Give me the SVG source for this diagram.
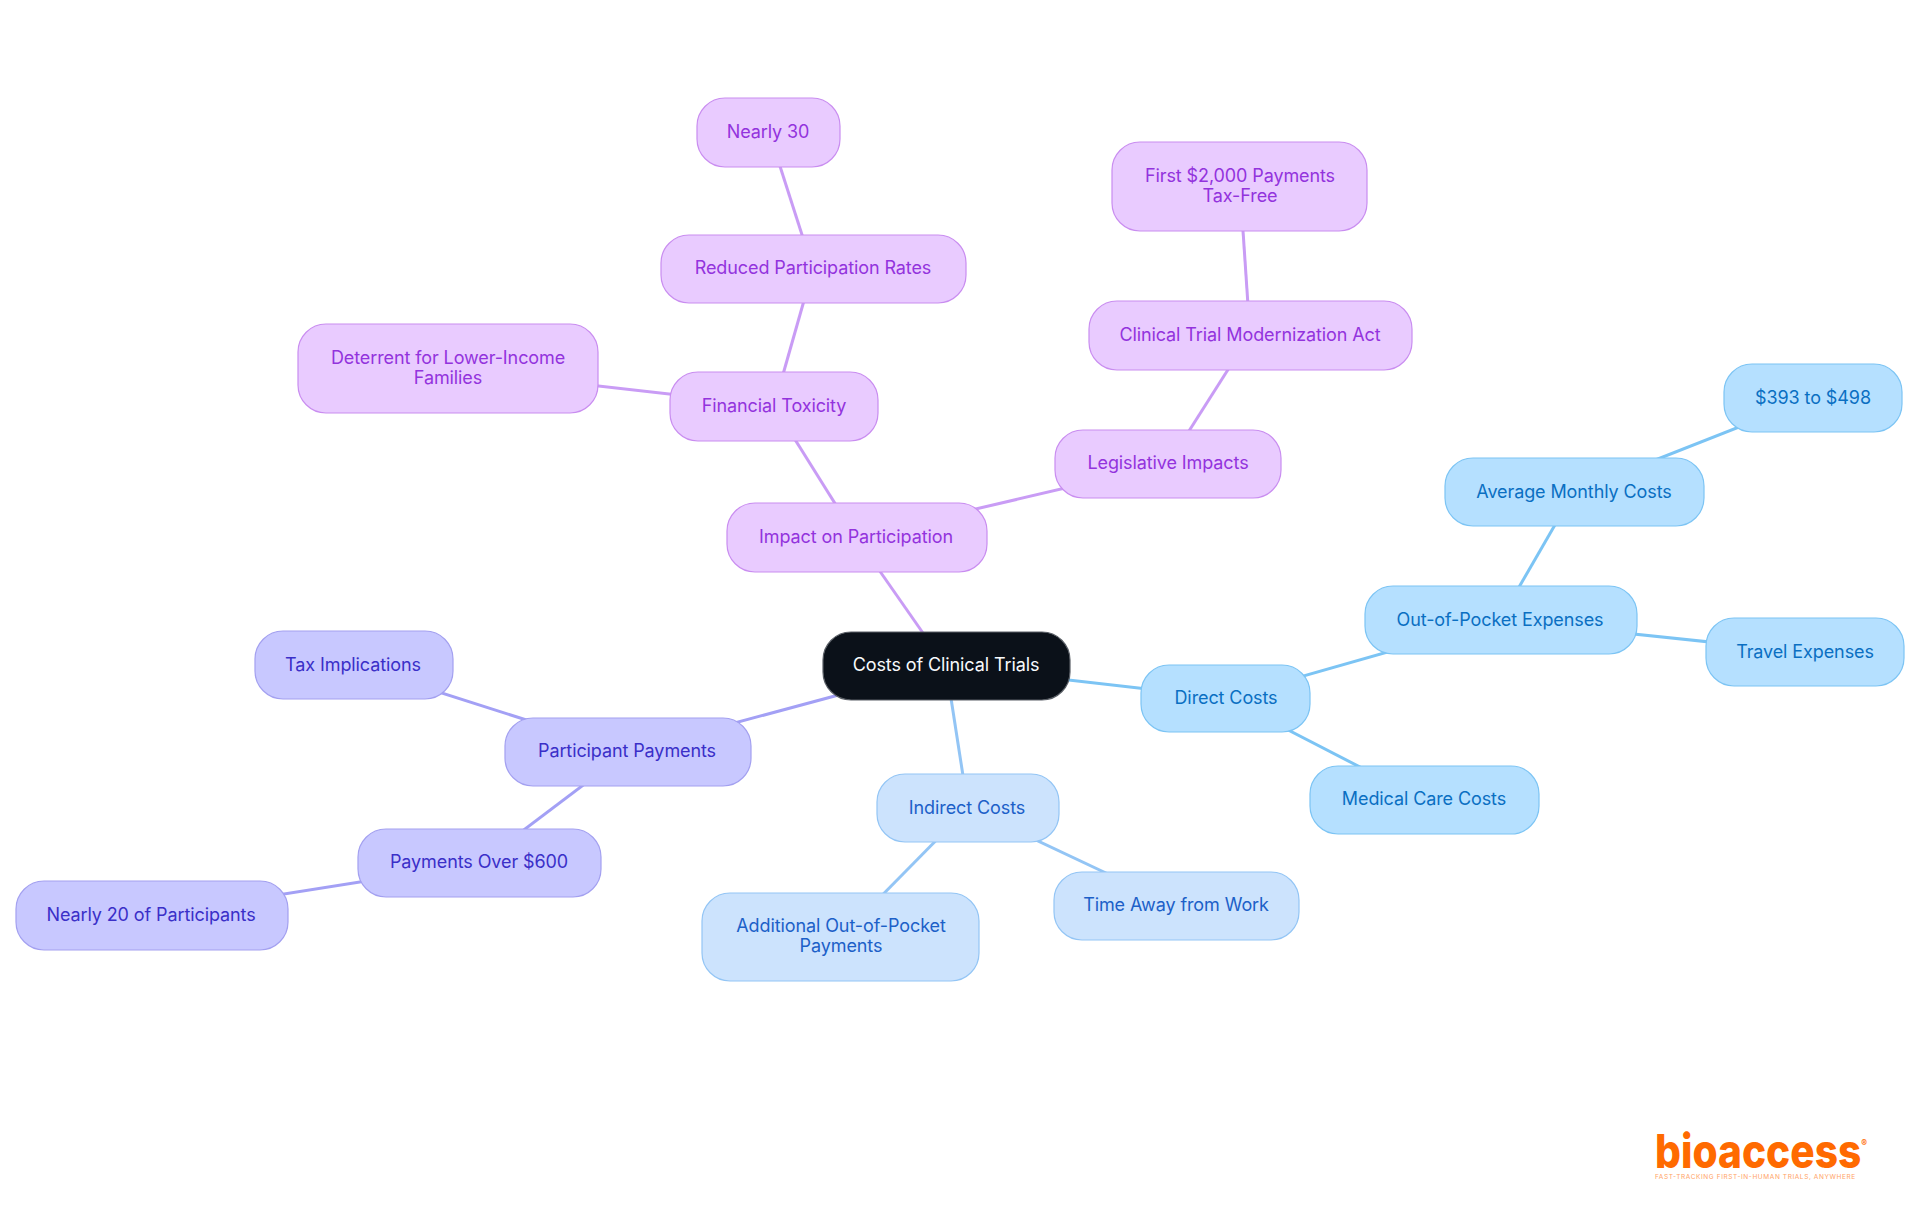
<svg xmlns="http://www.w3.org/2000/svg" width="1920" height="1215" viewBox="0 0 1920 1215">
<style>
text{font-family:Inter,"Noto Sans",sans-serif;font-size:18px;font-weight:400;letter-spacing:-.1px;text-anchor:middle;dominant-baseline:central}
rect{stroke-width:1.2}
line{stroke-width:3;fill:none}
.r rect{fill:#0b1119;stroke:#5a5f66}.r text{fill:#f8fafc}
.p rect{fill:#e9cbff;stroke:#c98df0}.p text{fill:#9333dd}
.s rect{fill:#b5e0ff;stroke:#7cc4f4}.s text{fill:#0a6fc2}
.b rect{fill:#cce3fd;stroke:#93c5f5}.b text{fill:#1c60c8}
.i rect{fill:#c8c8ff;stroke:#a3a0f0}.i text{fill:#3a2fc8}
.lp{stroke:#c99cf5}.ls{stroke:#7cc4f4}.lb{stroke:#93c5f5}.li{stroke:#a3a0f5}
</style>
<rect width="1920" height="1215" fill="#fff" style="stroke:none"/>
<g id="connectors">
<line class="lp" x1="946" y1="666" x2="856" y2="537"/>
<line class="lp" x1="856" y1="537" x2="1168" y2="464"/>
<line class="lp" x1="1168" y1="464" x2="1250" y2="335"/>
<line class="lp" x1="1250" y1="335" x2="1240" y2="186"/>
<line class="lp" x1="856" y1="537" x2="774" y2="406"/>
<line class="lp" x1="774" y1="406" x2="448" y2="369"/>
<line class="lp" x1="774" y1="406" x2="813" y2="269"/>
<line class="lp" x1="813" y1="269" x2="769" y2="132"/>
<line class="li" x1="946" y1="666" x2="627" y2="752"/>
<line class="li" x1="627" y1="752" x2="354" y2="665"/>
<line class="li" x1="627" y1="752" x2="480" y2="863"/>
<line class="li" x1="480" y1="863" x2="152" y2="915"/>
<line class="lb" x1="946" y1="666" x2="968" y2="808"/>
<line class="lb" x1="968" y1="808" x2="841" y2="937"/>
<line class="lb" x1="968" y1="808" x2="1176" y2="906"/>
<line class="ls" x1="946" y1="666" x2="1226" y2="698"/>
<line class="ls" x1="1226" y1="698" x2="1424" y2="800"/>
<line class="ls" x1="1226" y1="698" x2="1500" y2="620"/>
<line class="ls" x1="1500" y1="620" x2="1805" y2="652"/>
<line class="ls" x1="1500" y1="620" x2="1574" y2="492"/>
<line class="ls" x1="1574" y1="492" x2="1813" y2="398"/>
</g>
<g id="root" class="r"><rect x="823" y="632" width="247" height="68" rx="28"/><text x="946" y="664">Costs of Clinical Trials</text></g>
<g id="impact" class="p"><rect x="727" y="503" width="260" height="69" rx="28"/><text x="856" y="536">Impact on Participation</text></g>
<g id="legislative" class="p"><rect x="1055" y="430" width="226" height="68" rx="28"/><text x="1168" y="462">Legislative Impacts</text></g>
<g id="modernization" class="p"><rect x="1089" y="301" width="323" height="69" rx="28"/><text x="1250" y="334">Clinical Trial Modernization Act</text></g>
<g id="first2000" class="p"><rect x="1112" y="142" width="255" height="89" rx="28"/><text x="1240" y="175">First $2,000 Payments</text><text x="1240" y="195">Tax-Free</text></g>
<g id="toxicity" class="p"><rect x="670" y="372" width="208" height="69" rx="28"/><text x="774" y="405">Financial Toxicity</text></g>
<g id="deterrent" class="p"><rect x="298" y="324" width="300" height="89" rx="28"/><text x="448" y="357">Deterrent for Lower-Income</text><text x="448" y="377">Families</text></g>
<g id="reduced" class="p"><rect x="661" y="235" width="305" height="68" rx="28"/><text x="813" y="267">Reduced Participation Rates</text></g>
<g id="nearly30" class="p"><rect x="697" y="98" width="143" height="69" rx="28"/><text x="768" y="131">Nearly 30</text></g>
<g id="payments" class="i"><rect x="505" y="718" width="246" height="68" rx="28"/><text x="627" y="750">Participant Payments</text></g>
<g id="tax" class="i"><rect x="255" y="631" width="198" height="68" rx="28"/><text x="353" y="664">Tax Implications</text></g>
<g id="over600" class="i"><rect x="358" y="829" width="243" height="68" rx="28"/><text x="479" y="861">Payments Over $600</text></g>
<g id="nearly20" class="i"><rect x="16" y="881" width="272" height="69" rx="28"/><text x="151" y="914">Nearly 20 of Participants</text></g>
<g id="indirect" class="b"><rect x="877" y="774" width="182" height="68" rx="28"/><text x="967" y="807">Indirect Costs</text></g>
<g id="additional" class="b"><rect x="702" y="893" width="277" height="88" rx="28"/><text x="841" y="925">Additional Out-of-Pocket</text><text x="841" y="945">Payments</text></g>
<g id="timeaway" class="b"><rect x="1054" y="872" width="245" height="68" rx="28"/><text x="1176" y="904">Time Away from Work</text></g>
<g id="direct" class="s"><rect x="1141" y="665" width="169" height="67" rx="28"/><text x="1226" y="697">Direct Costs</text></g>
<g id="medical" class="s"><rect x="1310" y="766" width="229" height="68" rx="28"/><text x="1424" y="798">Medical Care Costs</text></g>
<g id="oop" class="s"><rect x="1365" y="586" width="272" height="68" rx="28"/><text x="1500" y="619">Out-of-Pocket Expenses</text></g>
<g id="travel" class="s"><rect x="1706" y="618" width="198" height="68" rx="28"/><text x="1805" y="651">Travel Expenses</text></g>
<g id="average" class="s"><rect x="1445" y="458" width="259" height="68" rx="28"/><text x="1574" y="491">Average Monthly Costs</text></g>
<g id="range" class="s"><rect x="1724" y="364" width="178" height="68" rx="28"/><text x="1813" y="397">$393 to $498</text></g>
<g id="logo">
<text x="1761" y="1168" style="font-size:47px;font-weight:800;letter-spacing:0;fill:#ff6a00;dominant-baseline:auto" textLength="212" lengthAdjust="spacingAndGlyphs">bioaccess<tspan dy="-21" style="font-size:10px;font-weight:700">®</tspan></text>
<text x="1755" y="1177" style="font-size:6.5px;font-weight:400;fill:#ffa366" textLength="200">FAST-TRACKING FIRST-IN-HUMAN TRIALS, ANYWHERE</text>
</g>
</svg>
